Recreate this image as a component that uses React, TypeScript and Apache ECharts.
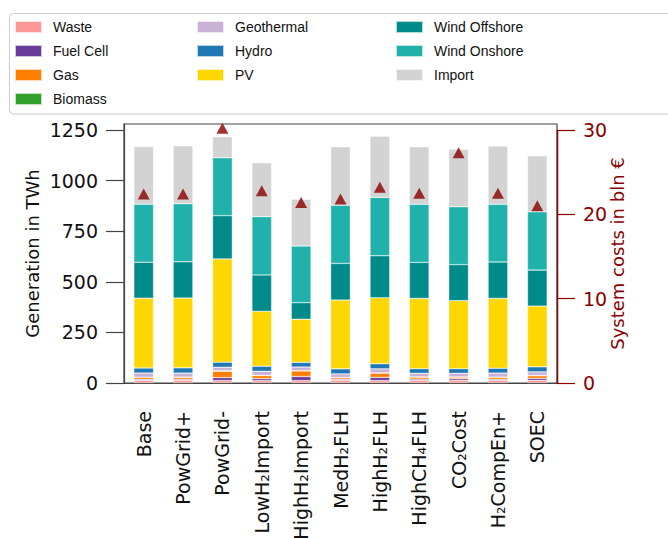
import { useEffect, useRef } from "react";
import * as echarts from "echarts";

// Scenario names on the category axis
const scenarios = [
  "Base",
  "PowGrid+",
  "PowGrid-",
  "LowH₂Import",
  "HighH₂Import",
  "MedH₂FLH",
  "HighH₂FLH",
  "HighCH₄FLH",
  "CO₂Cost",
  "H₂CompEn+",
  "SOEC",
];

// Generation per technology in TWh
const waste = [13, 13, 12, 12, 12, 13, 12, 13, 13, 13, 13];
const fuelCell = [5, 5, 15, 10, 20, 5, 16, 6, 8, 5, 10];
const gas = [10, 10, 31, 15, 28, 8, 21, 10, 8, 10, 13];
const biomass = [1, 1, 3, 1, 1, 1, 1, 1, 1, 1, 1];
const geothermal = [20, 20, 17, 20, 18, 18, 20, 18, 18, 20, 18];
const hydro = [25, 26, 25, 25, 23, 25, 25, 23, 23, 24, 25];
const pv = [345, 345, 510, 271, 213, 340, 326, 347, 336, 345, 300];
const windOffshore = [178, 179, 214, 180, 82, 181, 208, 178, 178, 180, 178];
const windOnshore = [287, 287, 286, 288, 280, 288, 288, 287, 286, 285, 288];
const imports = [285, 286, 104, 266, 231, 289, 303, 285, 284, 288, 277];

// System costs in bln €
const systemCosts = [22.4, 22.4, 30.2, 22.8, 21.4, 21.8, 23.2, 22.5, 27.3, 22.5, 21.0];

// Axis ticks
const genTicks = [0, 250, 500, 750, 1000, 1250];
const costTicks = [0, 10, 20, 30];

const techs = [
  { name: "Waste", color: "#fb9a99", data: waste },
  { name: "Fuel Cell", color: "#6a3d9a", data: fuelCell },
  { name: "Gas", color: "#ff7f00", data: gas },
  { name: "Biomass", color: "#33a02c", data: biomass },
  { name: "Geothermal", color: "#cab2d6", data: geothermal },
  { name: "Hydro", color: "#1f78b4", data: hydro },
  { name: "PV", color: "#ffd700", data: pv },
  { name: "Wind Offshore", color: "#008b8b", data: windOffshore },
  { name: "Wind Onshore", color: "#20b2aa", data: windOnshore },
  { name: "Import", color: "#d3d3d3", data: imports },
];

const legendColumns = [
  ["Waste", "Fuel Cell", "Gas", "Biomass"],
  ["Geothermal", "Hydro", "PV"],
  ["Wind Offshore", "Wind Onshore", "Import"],
];
const legendLefts = [14, 196, 395];

const FONT = "DejaVu Sans";
const COST_RED = "#8b0000";
const W = 668;
const H = 538;
const GRID = { left: 124, right: 111, top: 124, bottom: 155 };

export default function App() {
  const ref = useRef<HTMLDivElement>(null);

  useEffect(() => {
    if (!ref.current) return;
    const chart = echarts.init(ref.current, null, { renderer: "svg", width: W, height: H });

    const barSeries = techs.map((t) => ({
      type: "bar",
      name: t.name,
      stack: "gen",
      barWidth: "50%",
      yAxisIndex: 0,
      data: t.data,
      itemStyle: { color: t.color, borderColor: "rgba(255,255,255,0.7)", borderWidth: 0.5 },
    }));

    chart.setOption({
      animation: false,
      backgroundColor: "#ffffff",
      textStyle: { fontFamily: FONT },
      grid: {
        ...GRID,
        show: true,
        borderColor: "#444",
        borderWidth: 1.2,
        containLabel: false,
        outerBoundsMode: "none",
      },
      legend: legendColumns.map((col, i) => ({
        orient: "vertical",
        left: legendLefts[i],
        top: 19,
        padding: 0,
        data: col,
        icon: "rect",
        itemWidth: 27,
        itemHeight: 12,
        itemGap: 8,
        selectedMode: false,
        textStyle: {
          fontFamily: "Liberation Sans",
          fontSize: 14,
          color: "#111",
          lineHeight: 16,
          padding: [0, 0, 0, 6],
        },
      })),
      xAxis: {
        type: "category",
        data: scenarios,
        axisLine: { lineStyle: { color: "#444", width: 1.2 } },
        axisTick: { alignWithLabel: true, length: 18, lineStyle: { color: "#444", width: 1.2 } },
        axisLabel: { rotate: 90, fontSize: 19, margin: 28, color: "#111", fontFamily: FONT },
      },
      yAxis: [
        {
          type: "value",
          min: 0,
          max: 1280,
          interval: 250,
          position: "left",
          name: "Generation in TWh",
          nameLocation: "middle",
          nameRotate: 90,
          nameGap: 83,
          nameMoveOverlap: false,
          nameTextStyle: { fontSize: 18, color: "#111", fontFamily: FONT },
          axisLine: { show: true, lineStyle: { color: "#444", width: 1.2 } },
          axisTick: { show: true, length: 18, customValues: genTicks, lineStyle: { color: "#444", width: 1.2 } },
          axisLabel: {
            fontSize: 19,
            margin: 26,
            color: "#111",
            fontFamily: FONT,
            customValues: genTicks,
            formatter: (v: number) => String(v),
          },
          splitLine: { show: false },
        },
        {
          type: "value",
          min: 0,
          max: 30.7,
          interval: 10,
          position: "right",
          name: "System costs in bln €",
          nameLocation: "middle",
          nameRotate: 90,
          nameGap: 51,
          nameMoveOverlap: false,
          nameTextStyle: { fontSize: 18, color: COST_RED, fontFamily: FONT },
          axisLine: { show: false },
          axisTick: { show: true, length: 18, customValues: costTicks, lineStyle: { color: COST_RED, width: 1.2 } },
          axisLabel: {
            fontSize: 19,
            margin: 26,
            color: COST_RED,
            fontFamily: FONT,
            customValues: costTicks,
            formatter: (v: number) => String(v),
          },
          splitLine: { show: false },
        },
      ],
      series: [
        ...barSeries,
        {
          type: "scatter",
          name: "System costs",
          yAxisIndex: 1,
          symbol: "triangle",
          symbolSize: [12, 11],
          clip: false,
          z: 5,
          itemStyle: { color: COST_RED },
          data: systemCosts,
        },
      ],
    });

    // Red spine of the cost axis, spanning its tick range
    const yTop = chart.convertToPixel({ yAxisIndex: 1 }, costTicks[costTicks.length - 1]) as number;
    const yBottom = chart.convertToPixel({ yAxisIndex: 1 }, costTicks[0]) as number;
    const xRight = W - GRID.right;
    chart.setOption({
      graphic: [
        {
          type: "rect",
          z: -1,
          shape: { x: 9.5, y: 13.5, width: 700, height: 100.5, r: 4 },
          style: { fill: "#fff", stroke: "#cccccc", lineWidth: 1 },
          silent: true,
        },
        {
          type: "line",
          z: 10,
          shape: { x1: xRight + 0.5, y1: yTop, x2: xRight + 0.5, y2: yBottom },
          style: { stroke: COST_RED, lineWidth: 1.5 },
          silent: true,
        },
      ],
    });

    return () => chart.dispose();
  }, []);

  return (
    <div
      ref={ref}
      style={{ position: "fixed", left: 0, top: 0, width: W, height: H, background: "#fff" }}
    />
  );
}
